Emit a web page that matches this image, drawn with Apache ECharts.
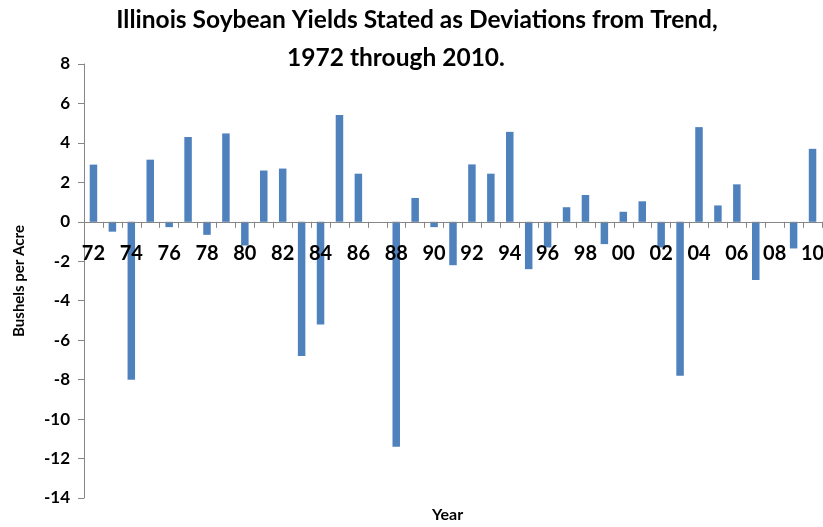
<!DOCTYPE html>
<html>
<head>
<meta charset="utf-8">
<script src="https://cdn.jsdelivr.net/npm/echarts@6/dist/echarts.min.js"></script>
<style>html,body{margin:0;padding:0;background:#fff}#c{width:823px;height:527px}</style>
</head>
<body>
<div id="c"></div>
<script>
const years = ['72','73','74','75','76','77','78','79','80','81','82','83','84','85','86','87','88','89','90','91','92','93','94','95','96','97','98','99','00','01','02','03','04','05','06','07','08','09','10'];
const deviations = [2.9,-0.5,-8.0,3.15,-0.27,4.3,-0.66,4.48,-1.2,2.6,2.7,-6.8,-5.2,5.42,2.44,0,-11.4,1.21,-0.27,-2.2,2.91,2.44,4.56,-2.4,-1.3,0.74,1.36,-1.13,0.51,1.04,-1.3,-7.8,4.8,0.83,1.9,-2.95,0,-1.35,3.7];
const yTicks = {min: -14, max: 8, step: 2};

const chart = echarts.init(document.getElementById('c'));
const font = 'Lato, "Open Sans", sans-serif';
const titleStyle = {fontFamily: font, fontWeight: 'bold', fontSize: 24.5, color: '#000'};
const gridTop = 64, gridBottom = 29;
chart.setOption({
  animation: false,
  backgroundColor: '#fff',
  title: [
    {text: 'Illinois Soybean Yields Stated as Deviations from Trend,', left: 412, top: 3, textAlign: 'center', textStyle: titleStyle},
    {text: '1972 through 2010.', left: 391, top: 41, textAlign: 'center', textStyle: titleStyle}
  ],
  graphic: [{
    type: 'text', left: 432, top: 507,
    style: {text: 'Year', fill: '#000', font: 'bold 16px ' + font}
  }],
  grid: {left: 84, right: 1, top: gridTop, bottom: gridBottom, containLabel: false, outerBoundsMode: 'none'},
  xAxis: {
    type: 'category', data: years, z: 5,
    axisLine: {onZero: false, lineStyle: {color: '#868686', width: 1}},
    axisTick: {show: true, interval: 0, length: 6, lineStyle: {color: '#868686'}},
    axisLabel: {interval: 1, margin: 22, fontFamily: font, fontWeight: 'bold', fontSize: 20, color: '#000'}
  },
  yAxis: {
    type: 'value', min: yTicks.min, max: yTicks.max, interval: yTicks.step,
    name: 'Bushels per Acre', nameLocation: 'middle', nameGap: 57,
    nameTextStyle: {fontFamily: font, fontWeight: 'bold', fontSize: 15, color: '#000'},
    splitLine: {show: false},
    axisLine: {show: true, lineStyle: {color: '#868686'}},
    axisTick: {show: true, length: 6, lineStyle: {color: '#868686'}},
    axisLabel: {margin: 14, fontFamily: font, fontWeight: 'bold', fontSize: 17, color: '#000'}
  },
  series: [{
    type: 'bar', data: deviations, barWidth: 7.5,
    itemStyle: {color: '#4F81BD'}
  }]
});
// move the category axis to the zero line of the value axis
const zeroY = chart.convertToPixel({yAxisIndex: 0}, 0);
const bottomY = chart.convertToPixel({yAxisIndex: 0}, yTicks.min);
chart.setOption({xAxis: {offset: zeroY - bottomY}});
</script>
</body>
</html>
